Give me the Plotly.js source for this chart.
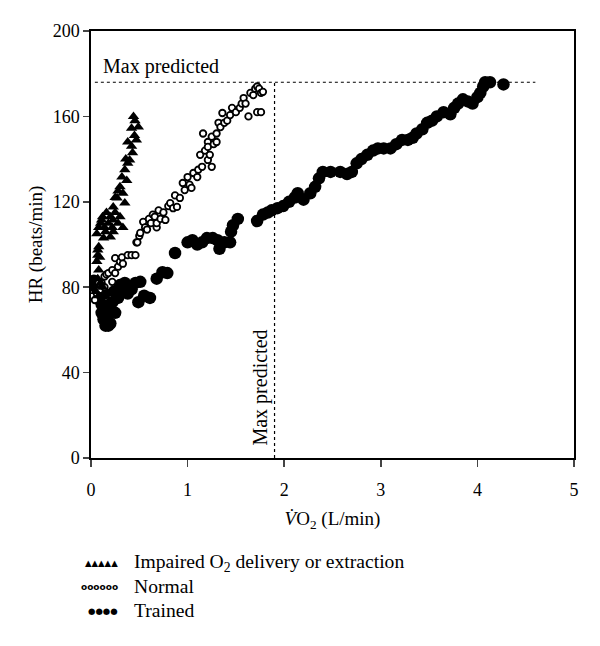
<!DOCTYPE html>
<html>
<head>
<meta charset="utf-8">
<script src="https://cdn.plot.ly/plotly-3.0.1.min.js"></script>
<style>html,body{margin:0;padding:0;background:#fff;}#chart{width:600px;height:646px;}</style>
</head>
<body>
<div id="chart"></div>
<script>
// Trained (filled circles)
var trainedX = [0.03,0.05,0.07,0.09,0.11,0.11,0.13,0.15,0.18,0.2,0.14,0.16,0.18,0.2,0.22,0.25,0.24,0.28,0.3,0.32,0.35,0.38,0.42,0.46,0.49,0.51,0.55,0.61,0.68,0.74,0.79,0.87,1.0,1.05,1.1,1.15,1.2,1.26,1.31,1.33,1.38,1.44,1.45,1.47,1.52,1.72,1.78,1.83,1.87,1.93,1.99,2.05,2.11,2.14,2.2,2.27,2.32,2.36,2.4,2.48,2.58,2.65,2.7,2.75,2.8,2.86,2.92,2.97,3.03,3.1,3.16,3.22,3.28,3.33,3.37,3.43,3.48,3.53,3.58,3.65,3.72,3.76,3.8,3.85,3.9,3.95,4.0,4.03,4.06,4.08,4.13,4.27];
var trainedY = [83,80,80,77,72,68,65,62,62,63,77,70,67,72,73,68,78,75,81,79,82,77,79,82,73,82.5,76,75,84,87,86.6,96,101,102,100,101,103,103,102,98,101,101,106,109,112,111,114,115,116,117,118,120,122,124,121,124,127,131,134,134,134,133,134,138,140,142,144,145,145,145,147,149,149,150,152,154,157,158,160,162,161,164,166,168,167,166,169,171,174,176,176,175];
// Normal (open circles)
var normalX = [0.04,0.06,0.09,0.08,0.11,0.14,0.14,0.16,0.18,0.22,0.22,0.25,0.25,0.28,0.3,0.32,0.33,0.38,0.42,0.46,0.47,0.48,0.5,0.51,0.54,0.56,0.58,0.6,0.62,0.64,0.66,0.68,0.68,0.7,0.72,0.75,0.77,0.8,0.82,0.85,0.87,0.89,0.92,0.95,0.97,1.0,1.02,1.04,1.06,1.1,1.11,1.13,1.15,1.16,1.18,1.21,1.21,1.21,1.23,1.25,1.25,1.27,1.3,1.3,1.32,1.34,1.36,1.38,1.41,1.44,1.46,1.5,1.54,1.56,1.58,1.6,1.63,1.65,1.68,1.7,1.72,1.74,1.76,1.78,1.72,1.76];
var normalY = [74,77,78.7,82,82,80,85,86,86.6,82.5,88,86.6,93.6,89.6,92,94,91,95,95,95,101,101,104,105.4,110.6,108,107,112,110,114,113,108,110,116,112,115,111.5,118,119.4,117,123,117.6,121.8,128.8,125.5,131.6,128,126.5,133.5,131.6,135,142,136.4,152,144,148,145.7,139.6,142,150.5,136.4,147,152,148,157,155,161.6,157,158,160.6,164,162,164,166,168.6,166,160,171,170,173,174,173,171,171.5,162,162];
// Impaired O2 delivery or extraction (triangles)
var impairedX = [0.05,0.08,0.07,0.1,0.12,0.06,0.08,0.07,0.08,0.07,0.09,0.06,0.08,0.1,0.11,0.13,0.15,0.16,0.12,0.14,0.18,0.2,0.2,0.22,0.23,0.23,0.23,0.25,0.27,0.28,0.3,0.3,0.32,0.33,0.33,0.35,0.35,0.37,0.38,0.4,0.38,0.43,0.42,0.45,0.47,0.455,0.49,0.44,0.25,0.28,0.36,0.42];
var impairedY = [78,76,84,82,80,92,88,95,99,97.4,94,105,108,110,111.5,103,106,115,113,108,110,103.5,113,108,106,111.5,117.6,115,121.8,110,113,127,131.6,108,124,119.4,135,130,138,139.6,148,143,154.5,151,149,158,155,160,122,125,140,146];

var xTicks = [0,1,2,3,4,5];
var yTicks = [0,40,80,120,160,200];
var maxPredHR = 176;
var maxPredVO2 = 1.9;

var serif = 'Liberation Serif, Times New Roman, serif';

var traces = [
  {x: trainedX, y: trainedY, type:'scatter', mode:'markers', name:'Trained',
   marker:{symbol:'circle', size:12.5, color:'#000'}},
  {x: normalX, y: normalY, type:'scatter', mode:'markers', name:'Normal',
   marker:{symbol:'circle', size:6.5, color:'#fff', line:{color:'#000', width:1.8}}},
  {x: impairedX, y: impairedY, type:'scatter', mode:'markers', name:'Impaired',
   marker:{symbol:'triangle-up', size:10, color:'#000'}}
];

var legendY = [-0.246, -0.302, -0.358];
var symX = 0.06, txtX = 0.085;
var layout = {
  width:600, height:646,
  margin:{l:91, r:26, t:31, b:188},
  paper_bgcolor:'#fff', plot_bgcolor:'#fff',
  showlegend:false,
  font:{family:serif, color:'#000', size:18},
  xaxis:{range:[0,5], tickvals:xTicks, ticktext:xTicks.map(String), ticks:'outside', ticklen:7, tickwidth:1.5,
    showline:true, linewidth:1.6, linecolor:'#000', mirror:true, showgrid:false, zeroline:false,
    ticklabelstandoff:8,
    tickfont:{size:18, family:serif},
    title:{text:'<i>V\u0307</i>O<sub>2</sub> (L/min)', font:{size:19, family:serif}, standoff:12}},
  yaxis:{range:[0,200], tickvals:yTicks, ticktext:yTicks.map(String), ticks:'outside', ticklen:6, tickwidth:1.5,
    showline:true, linewidth:1.6, linecolor:'#000', mirror:true, showgrid:false, zeroline:false,
    tickfont:{size:18, family:serif},
    title:{text:'HR (beats/min)', font:{size:19, family:serif}, standoff:5}},
  shapes:[
    {type:'line', xref:'x', yref:'y', x0:0.04, x1:4.6, y0:maxPredHR, y1:maxPredHR, line:{color:'#000', width:1.2, dash:'dot'}},
    {type:'line', xref:'x', yref:'y', x0:maxPredVO2, x1:maxPredVO2, y0:0, y1:maxPredHR, line:{color:'#000', width:1.2, dash:'dot'}}
  ],
  annotations:[
    {xref:'x', yref:'y', x:0.1, y:183.6, xanchor:'left', yanchor:'middle', text:'Max predicted', showarrow:false, font:{size:20, family:serif}},
    {xref:'x', yref:'y', x:1.76, y:33, xanchor:'center', yanchor:'middle', text:'Max predicted', textangle:-90, showarrow:false, font:{size:20, family:serif}},
    {xref:'paper', yref:'paper', x:symX, y:legendY[0], xanchor:'right', yanchor:'middle', text:'\u25B2\u25B2\u25B2\u25B2\u25B2', showarrow:false, font:{size:8.5, family:'DejaVu Sans', color:'#000'}},
    {xref:'paper', yref:'paper', x:txtX, y:legendY[0], xanchor:'left', yanchor:'middle', text:'Impaired O<sub>2</sub> delivery or extraction', showarrow:false, font:{size:19.6, family:serif}},
    {xref:'paper', yref:'paper', x:symX, y:legendY[1], xanchor:'right', yanchor:'middle', text:'<b>oooooo</b>', showarrow:false, font:{size:9, family:'DejaVu Sans', color:'#000'}},
    {xref:'paper', yref:'paper', x:txtX, y:legendY[1], xanchor:'left', yanchor:'middle', text:'Normal', showarrow:false, font:{size:19.6, family:serif}},
    {xref:'paper', yref:'paper', x:symX, y:legendY[2], xanchor:'right', yanchor:'middle', text:'\u25CF\u25CF\u25CF\u25CF', showarrow:false, font:{size:8.5, family:'DejaVu Sans', color:'#000'}},
    {xref:'paper', yref:'paper', x:txtX, y:legendY[2], xanchor:'left', yanchor:'middle', text:'Trained', showarrow:false, font:{size:19.6, family:serif}}
  ]
};
Plotly.newPlot('chart', traces, layout, {displayModeBar:false, staticPlot:true});
</script>
</body>
</html>
